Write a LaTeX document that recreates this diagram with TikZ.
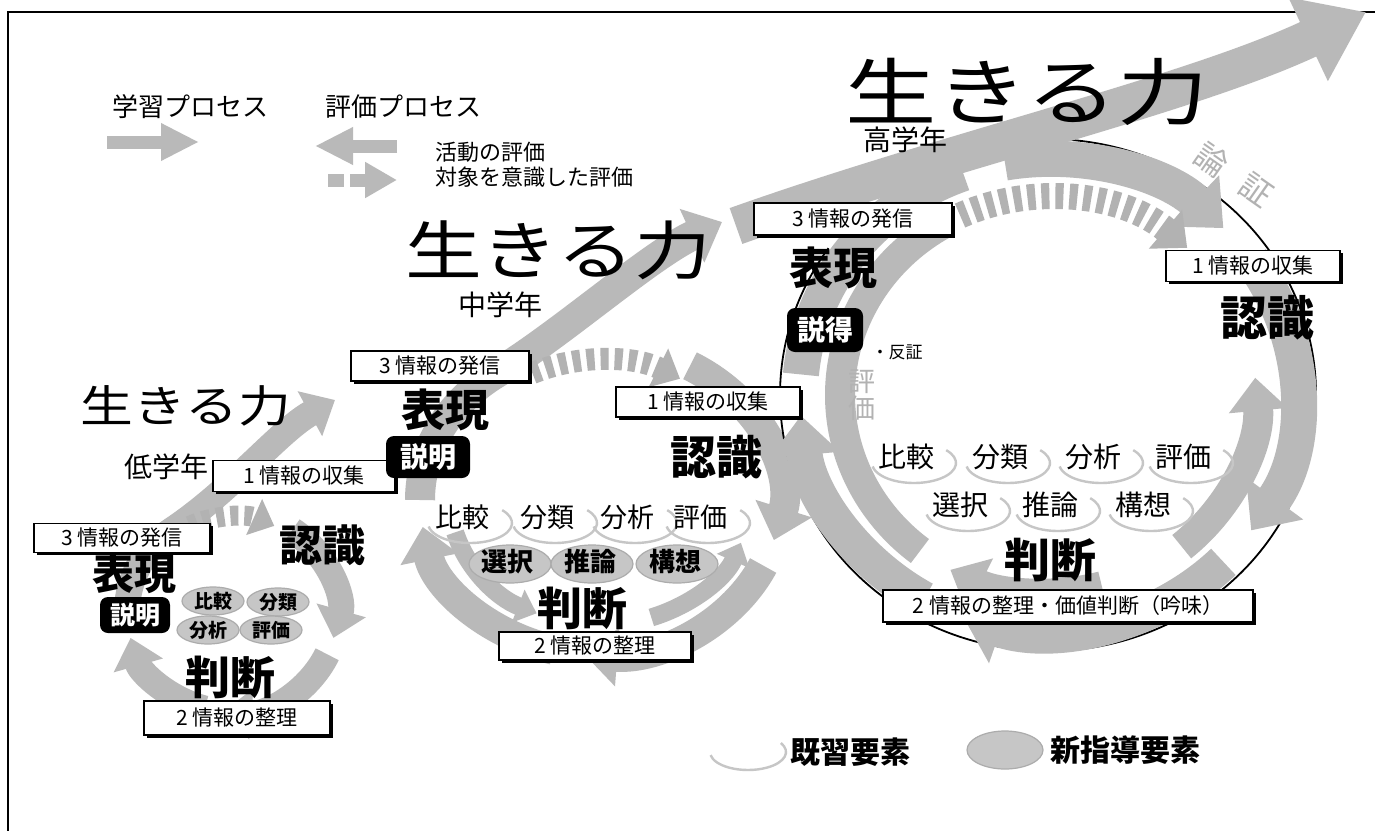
\documentclass[tikz,border=0pt]{standalone}
\usepackage{fontspec}
\usepackage{graphicx}
\setmainfont{Noto Sans CJK JP}
\usetikzlibrary{arrows.meta,shapes.geometric,shadows,calc}
\newcommand{\pxs}[1]{\fontsize{#1}{#1}\selectfont}
\newcommand{\myarc}[6]{\draw[#6] ($(#1)+(#4:#2 and #3)$) arc[start angle=#4,end angle=#5,x radius=#2,y radius=#3];}
\newcommand{\oldel}[5]{%
  \node[lbl,font=\pxs{#5}] (#1) at (#2,#3) {#4};
  \draw[oldarc] ($(#1)+(8,6)+(-40:42 and 20)$) arc[start angle=-40,end angle=170,x radius=42,y radius=20];}
\begin{document}
\begin{tikzpicture}[x=0.5pt,y=-0.5pt,
  band/.style={draw=gray!55, line width=#1},
  hd/.style={-{Triangle[length=0pt 1.1,width=0pt 1.9]}},
  dsh/.style={draw=gray!60, line width=#1, dash pattern=on 4pt off 3pt},
  box/.style={draw=black, line width=0.8pt, fill=white, inner sep=0pt, font=\pxs{10.5},
    general shadow={fill=black, shadow xshift=1.3pt, shadow yshift=-1.3pt}},
  blk/.style={fill=black, rounded corners=4pt, text=white, inner sep=0pt},
  big/.style={font=\bfseries\pxs{#1}, inner sep=0pt},
  newel/.style={ellipse, fill=gray!45, draw=gray!65, line width=0.6pt, inner sep=0pt},
  oldarc/.style={draw=gray!45, line width=1.2pt},
  lbl/.style={inner sep=0pt}]
\useasboundingbox (0,0) rectangle (1375,830);
\clip (0,0) rectangle (1375,830);
\fill[white] (0,0) rectangle (1375,830);
\draw[line width=1.2pt] (8,12) rectangle (1400,860);

% ---------- legend (top) ----------
\node[lbl,font=\pxs{13}] (lgA) at (190,107) {学習プロセス};
\node[lbl,font=\pxs{13}] (lgB) at (403,107) {評価プロセス};
\draw[band=6.5pt,-{Triangle[length=19pt,width=17.5pt]}] (107,142) -- (199,142);
\draw[band=6.5pt,-{Triangle[length=19pt,width=17.5pt]}] (397,146) -- (315,146);
\draw[band=6.5pt,dash pattern=on 8pt off 3pt,-{Triangle[length=16pt,width=17pt]}] (328,180) -- (397,180);
\node[lbl,anchor=west,font=\pxs{11}] (lgC) at (435,152) {活動の評価};
\node[lbl,anchor=west,font=\pxs{11}] (lgD) at (435,177) {対象を意識した評価};

\coordinate (Lc) at (232,612);
\coordinate (Mc) at (600,500);
\coordinate (Uc) at (1048,395);

% ---------- lower cycle bands ----------
\myarc{Lc}{105}{100}{-55}{15}{band=13pt,hd}
\myarc{Lc}{105}{100}{25}{95}{band=13pt,hd}
\myarc{Lc}{105}{100}{105}{165}{band=13pt,hd}
\draw[band=13pt,hd] ($(Lc)+(175:105 and 100)$) arc[start angle=175,end angle=235,x radius=105,y radius=100]
   .. controls (232,490) and (280,430) .. (335,400);
\myarc{Lc}{100}{95}{245}{295}{dsh=10pt,hd}

% ---------- middle cycle bands ----------
\myarc{Mc}{180}{155}{-60}{15}{band=15pt,hd}
\myarc{Mc}{180}{155}{25}{95}{band=15pt,hd}
\myarc{Mc}{180}{155}{105}{170}{band=15pt,hd}
\draw[band=15pt,hd] ($(Mc)+(180:180 and 155)$) arc[start angle=180,end angle=235,x radius=180,y radius=155]
   .. controls (560,335) and (650,255) .. (722,222);
\myarc{Mc}{160}{140}{245}{300}{dsh=11pt,hd}
\myarc{Mc}{150}{125}{165}{115}{band=9pt,hd}
\myarc{Mc}{150}{125}{70}{20}{band=9pt,hd}

% ---------- upper cycle bands ----------
\myarc{Uc}{268}{256}{-120}{215}{draw=black,line width=0.9pt}
\myarc{Uc}{248}{236}{-100}{-45}{band=18pt,hd}
\myarc{Uc}{248}{236}{-35}{35}{band=18pt,hd}
\myarc{Uc}{248}{236}{45}{110}{band=18pt,hd}
\myarc{Uc}{248}{236}{120}{175}{band=18pt,hd}
\myarc{Uc}{248}{236}{185}{250}{band=18pt}
\myarc{Uc}{208}{198}{50}{-5}{band=15pt,hd}
\myarc{Uc}{208}{198}{75}{118}{band=15pt,hd}
\myarc{Uc}{208}{198}{128}{240}{band=15pt}
\myarc{Uc}{208}{198}{245}{312}{dsh=13pt,hd}
\draw[band=19pt,-{Triangle[length=32pt,width=44pt]}] (736,226) .. controls (950,150) and (1190,95) .. (1366,12);

% ---------- titles ----------
\node[lbl] (t3) at (1027,92) {\pxs{36.5}\scalebox{1.25}[1]{生きる力}};
\node[lbl] (t2) at (558,250) {\pxs{32}\scalebox{1.2}[1]{生きる力}};
\node[lbl] (t1) at (186,406) {\pxs{22}\scalebox{1.2}[1]{生きる力}};
\node[lbl,font=\pxs{14}] (g3) at (905,140) {高学年};
\node[lbl,font=\pxs{14}] (g2) at (500,305) {中学年};
\node[lbl,font=\pxs{14}] (g1) at (166,467) {低学年};

% ---------- lower cycle content ----------
\node[newel,minimum width=31pt,minimum height=14pt] (le1) at (213,601) {};
\node[newel,minimum width=31pt,minimum height=14pt] (le2) at (278,602) {};
\node[newel,minimum width=31pt,minimum height=14pt] (le3) at (208,630) {};
\node[newel,minimum width=31pt,minimum height=14pt] (le4) at (271,630) {};
\node[lbl,font=\bfseries\pxs{9.5}] at (le1) {比較};
\node[lbl,font=\bfseries\pxs{9.5}] at (le2) {分類};
\node[lbl,font=\bfseries\pxs{9.5}] at (le3) {分析};
\node[lbl,font=\bfseries\pxs{9.5}] at (le4) {評価};
\node[big=21] (lhy) at (134,574) {表現};
\node[big=21.5] (lni) at (322,545) {認識};
\node[big=22.5] (lha) at (230,677) {判断};
\node[blk,minimum width=35pt,minimum height=18pt,font=\bfseries\pxs{12.5}] (lsm) at (135,615) {説明};
\node[box,minimum width=88pt,minimum height=14.5pt] (lb3) at (122,538) {3 情報の発信};
\node[box,minimum width=91pt,minimum height=15.5pt] (lb1) at (304,476) {1 情報の収集};
\node[box,minimum width=93pt,minimum height=17pt] (lb2) at (237,718) {2 情報の整理};

% ---------- middle cycle content ----------
\oldel{m11}{462}{517}{比較}{13.5}
\oldel{m12}{547}{517}{分類}{13.5}
\oldel{m13}{627}{517}{分析}{13.5}
\oldel{m14}{700}{517}{評価}{13.5}
\node[newel,minimum width=41pt,minimum height=19pt] (m21) at (510,564) {};
\node[newel,minimum width=41pt,minimum height=19pt] (m22) at (592,564) {};
\node[newel,minimum width=41pt,minimum height=19pt] (m23) at (677,564) {};
\node[lbl,font=\bfseries\pxs{13}] at (507,562) {選択};
\node[lbl,font=\bfseries\pxs{13}] at (590,562) {推論};
\node[lbl,font=\bfseries\pxs{13}] at (675,562) {構想};
\node[big=22] (mhy) at (445,410) {表現};
\node[big=23] (mni) at (716,457) {認識};
\node[big=22.5] (mha) at (582,608) {判断};
\node[blk,minimum width=42pt,minimum height=21pt,font=\bfseries\pxs{14}] (msm) at (428,457) {説明};
\node[box,minimum width=89pt,minimum height=15pt] (mb3) at (440,366) {3 情報の発信};
\node[box,minimum width=92pt,minimum height=15pt] (mb1) at (708,402) {1 情報の収集};
\node[box,minimum width=96pt,minimum height=14pt] (mb2) at (595,646) {2 情報の整理};

% ---------- upper cycle content ----------
\oldel{u11}{906}{457}{比較}{14}
\oldel{u12}{1000}{457}{分類}{14}
\oldel{u13}{1093}{457}{分析}{14}
\oldel{u14}{1183}{457}{評価}{14}
\oldel{u21}{960}{505}{選択}{14}
\oldel{u22}{1050}{505}{推論}{14}
\oldel{u23}{1143}{505}{構想}{14}
\node[big=22] (uhy) at (833,268) {表現};
\node[big=23.5] (uni) at (1267,318) {認識};
\node[big=23] (uha) at (1050,560) {判断};
\node[blk,minimum width=38pt,minimum height=22pt,font=\bfseries\pxs{14}] (usm) at (825,330) {説得};
\node[lbl,font=\pxs{8.5}] (uhs) at (897,352) {・反証};
\node[lbl,align=center,text=gray!60,font=\pxs{13.5}] (uhk) at (862,395) {評\\価};
\node[lbl,rotate=-35,text=gray!60,font=\pxs{16}] (urs1) at (1212,160) {論};
\node[lbl,rotate=-35,text=gray!60,font=\pxs{16}] (urs2) at (1256,190) {証};
\node[box,minimum width=99pt,minimum height=16pt] (ub3) at (853,219) {3 情報の発信};
\node[box,minimum width=87pt,minimum height=15.5pt] (ub1) at (1253,266) {1 情報の収集};
\node[box,minimum width=185pt,minimum height=16pt] (ub2) at (1068,606) {2 情報の整理・価値判断（吟味）};

% ---------- legend (bottom) ----------
\draw[oldarc] ($(748,752)+(-30:38 and 18)$) arc[start angle=-30,end angle=170,x radius=38,y radius=18];
\node[lbl,anchor=west,font=\bfseries\pxs{15}] (kis) at (790,752) {既習要素};
\node[newel,minimum width=38pt,minimum height=19pt] (nlg) at (1005,750) {};
\node[lbl,anchor=west,font=\bfseries\pxs{15}] (shn) at (1050,750) {新指導要素};
\end{tikzpicture}
\end{document}
